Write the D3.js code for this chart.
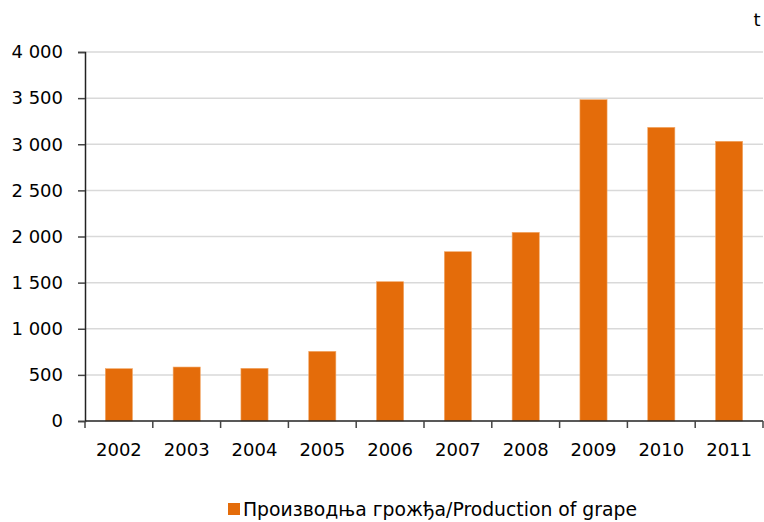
<!DOCTYPE html>
<html>
<head>
<meta charset="utf-8">
<script src="https://cdn.jsdelivr.net/npm/d3@7"></script>
<style>
    body { margin: 0; background: #fff; }
    text { font-family: "DejaVu Sans", sans-serif; fill: #000; }
</style>
</head>
<body>
<div id="chart"></div>
<script>
"use strict";

const years = ["2002", "2003", "2004", "2005", "2006", "2007", "2008", "2009", "2010", "2011"];
const production = [567, 585, 571, 755, 1510, 1835, 2045, 3483, 3183, 3032];
const yTicks = [0, 500, 1000, 1500, 2000, 2500, 3000, 3500, 4000];
const seriesName = "Производња грожђа/Production of grape";
const unitLabel = "t";

const W = 764, H = 522;
const margin = {top: 52, right: 1, bottom: 101, left: 85};
const width = W - margin.left - margin.right,
    height = H - margin.top - margin.bottom;

const svg = d3.select("#chart")
    .append("svg")
    .attr("width", W)
    .attr("height", H);

const g = svg.append("g")
    .attr("transform", "translate(" + margin.left + "," + margin.top + ")");

const x = d3.scaleBand()
    .domain(years)
    .range([0, width])
    .paddingInner(0.6)
    .paddingOuter(0.3);

const y = d3.scaleLinear()
    .domain([0, 4000])
    .range([height, 0]);

const fmt = v => d3.format(",")(v).replace(/,/g, " ");

// gridlines
g.append("g")
    .selectAll("line")
    .data(yTicks.slice(1))
    .join("line")
    .attr("x1", 0)
    .attr("x2", width)
    .attr("y1", d => y(d))
    .attr("y2", d => y(d))
    .attr("stroke", "#d9d9d9")
    .attr("stroke-width", 1.5);

// bars
g.append("g")
    .selectAll("rect")
    .data(production)
    .join("rect")
    .attr("x", (d, i) => x(years[i]))
    .attr("y", d => y(d))
    .attr("width", x.bandwidth())
    .attr("height", d => height - y(d))
    .attr("fill", "#e46c0a")
    .attr("stroke", "#f2a766")
    .attr("stroke-width", 0.6);

// y axis
const yAxis = g.append("g")
    .call(d3.axisLeft(y).tickValues(yTicks).tickFormat(fmt).tickSize(7).tickPadding(15));
yAxis.select(".domain").attr("stroke", "#222").attr("stroke-width", 1.5);
yAxis.selectAll(".tick line").attr("stroke", "#444").attr("stroke-width", 1.5);
yAxis.selectAll("text").attr("font-size", 18).attr("font-family", "DejaVu Sans").attr("fill", "#000");

// x axis with ticks at band boundaries
const xAxisG = g.append("g")
    .attr("transform", "translate(0," + height + ")");
xAxisG.append("line")
    .attr("x1", 0).attr("x2", width)
    .attr("stroke", "#222").attr("stroke-width", 1.5);
const boundaries = d3.range(years.length + 1).map(i => i * (width / years.length));
xAxisG.selectAll(".xtick")
    .data(boundaries)
    .join("line")
    .attr("class", "xtick")
    .attr("x1", d => d).attr("x2", d => d)
    .attr("y1", 0).attr("y2", 7)
    .attr("stroke", "#444").attr("stroke-width", 1.5);
xAxisG.selectAll(".xlabel")
    .data(years)
    .join("text")
    .attr("class", "xlabel")
    .attr("x", d => x(d) + x.bandwidth() / 2)
    .attr("y", 35)
    .attr("text-anchor", "middle")
    .attr("font-size", 18)
    .text(d => d);

// unit label
svg.append("text")
    .attr("x", 757)
    .attr("y", 26)
    .attr("text-anchor", "middle")
    .attr("font-size", 18)
    .text(unitLabel);

// legend
const legend = svg.append("g").attr("class", "legend");
legend.append("rect")
    .attr("x", 228).attr("y", 503)
    .attr("width", 12).attr("height", 12)
    .attr("fill", "#e46c0a");
legend.append("text")
    .attr("x", 243)
    .attr("y", 516)
    .attr("font-size", 18.8)
    .text(seriesName);
</script>
</body>
</html>
